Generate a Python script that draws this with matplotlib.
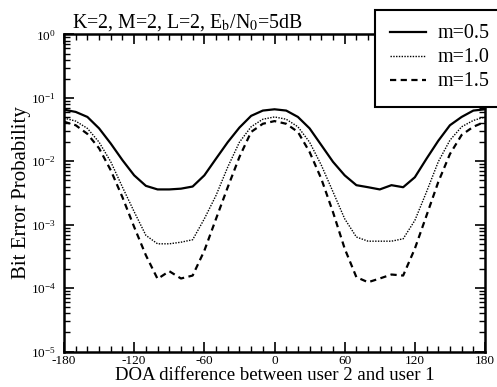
import numpy as np
import matplotlib
matplotlib.use("Agg")
import matplotlib.pyplot as plt
from matplotlib.ticker import MultipleLocator, LogLocator, NullFormatter

plt.rcParams['font.family'] = ['Liberation Serif', 'DejaVu Serif']
plt.rcParams['mathtext.fontset'] = 'stix'
plt.rcParams['axes.unicode_minus'] = False

# DOA difference (deg) and BER for each fading parameter m
doa = list(range(-180, 181, 10))
ber_m05 = [0.065, 0.060, 0.050, 0.033, 0.019, 0.0104, 0.0060, 0.0041, 0.0036, 0.0036,
           0.0037, 0.0040, 0.0060, 0.011, 0.020, 0.034, 0.052, 0.063, 0.066, 0.063,
           0.050, 0.033, 0.018, 0.0098, 0.0060, 0.0042, 0.0039, 0.0036, 0.0042, 0.0039,
           0.0056, 0.011, 0.021, 0.037, 0.050, 0.063, 0.066]
ber_m10 = [0.048, 0.043, 0.033, 0.020, 0.0098, 0.0039, 0.0016, 0.00068, 0.0005, 0.0005,
           0.00053, 0.00058, 0.00124, 0.0029, 0.0081, 0.020, 0.035, 0.046, 0.050, 0.046,
           0.035, 0.020, 0.0087, 0.0033, 0.00124, 0.00064, 0.00055, 0.00055, 0.00055, 0.0006,
           0.00117, 0.0033, 0.0098, 0.0215, 0.035, 0.044, 0.050]
ber_m15 = [0.042, 0.037, 0.027, 0.016, 0.0072, 0.0027, 0.00092, 0.00033, 0.00014, 0.000185,
           0.000142, 0.000158, 0.00039, 0.00124, 0.0039, 0.0117, 0.029, 0.039, 0.043, 0.039,
           0.029, 0.014, 0.0053, 0.00158, 0.00042, 0.000149, 0.000124, 0.000142, 0.000164, 0.000158,
           0.00042, 0.0014, 0.0047, 0.013, 0.026, 0.035, 0.042]
labels = ['m=0.5', 'm=1.0', 'm=1.5']

fig = plt.figure(figsize=(4.97, 3.87), dpi=100)
ax = fig.add_axes([0.1288, 0.0915, 0.8471, 0.8196])

ax.plot(doa, ber_m05, color='black', lw=1.6, ls='-', label=labels[0])
ax.plot(doa, ber_m10, color='black', lw=1.0, ls=(0, (1, 1)), label=labels[1])
ax.plot(doa, ber_m15, color='black', lw=1.6, ls=(0, (2.8, 2.0)), label=labels[2])

ax.set_yscale('log')
ax.set_xlim(-180, 180)
ax.set_ylim(1e-5, 1)
ax.xaxis.set_major_locator(MultipleLocator(60))
ax.xaxis.set_minor_locator(MultipleLocator(10))
ax.yaxis.set_major_locator(LogLocator(base=10, numticks=10))
ax.yaxis.set_minor_locator(LogLocator(base=10, subs=np.arange(2, 10), numticks=10))
ax.yaxis.set_minor_formatter(NullFormatter())

ax.tick_params(which='both', direction='in', top=True, right=True, labelsize=9.5)
ax.tick_params(axis='x', pad=2.5)
ax.tick_params(axis='y', pad=6)
ax.tick_params(which='major', length=7, width=1.2)
ax.tick_params(which='minor', length=4, width=1.0)
for s in ax.spines.values():
    s.set_linewidth(1.8)

ax.set_xlabel('DOA difference between user 2 and user 1', fontsize=13.5, labelpad=0)
ax.set_ylabel('Bit Error Probability', fontsize=15, labelpad=0)
ax.text(0.02, 1.005, r'K=2, M=2, L=2, E$_\mathrm{b}$/N$_\mathrm{0}$=5dB',
        transform=ax.transAxes, fontsize=14.3, ha='left', va='bottom')

leg = ax.legend(loc='upper left', bbox_to_anchor=(375 / 497, 1 - 9.5 / 387),
                bbox_transform=fig.transFigure, fontsize=14.4, frameon=True,
                fancybox=False, handlelength=1.8, borderpad=0.75, labelspacing=0.25,
                handletextpad=0.6, borderaxespad=0)
leg.get_frame().set_edgecolor('black')
leg.get_frame().set_linewidth(1.5)
leg.get_frame().set_alpha(1)
leg.set_zorder(10)

fig.savefig('out.png', dpi=100)
